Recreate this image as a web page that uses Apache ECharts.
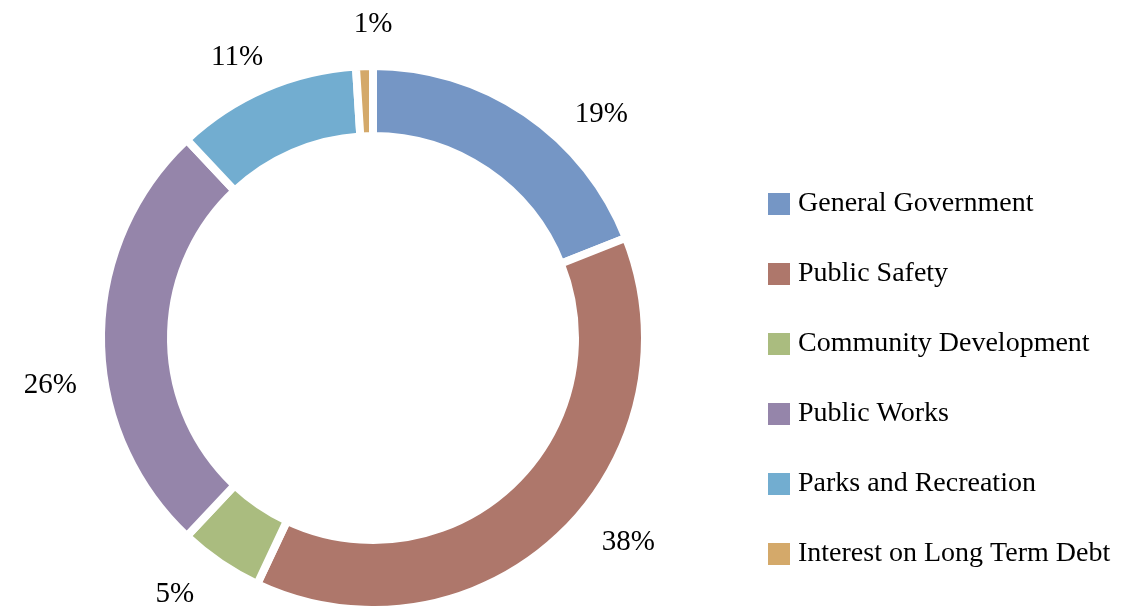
<!DOCTYPE html>
<html>
<head>
<meta charset="utf-8">
<script src="https://cdn.jsdelivr.net/npm/echarts@6/dist/echarts.min.js"></script>
<style>
  html, body { margin: 0; padding: 0; background: #fff; }
  #main { width: 1127px; height: 606px; }
</style>
</head>
<body>
<div id="main"></div>
<script>
var chartDom = document.getElementById('main');
var myChart = echarts.init(chartDom);
var option;

const categories = ['General Government', 'Public Safety', 'Community Development', 'Public Works', 'Parks and Recreation', 'Interest on Long Term Debt'];
const shares = [19, 38, 5, 26, 11, 1];
const colors = ['#7596C5', '#AE776B', '#AABC7F', '#9585AA', '#72ADD0', '#D4A96A'];
// small nudges so the % labels sit where the original placed them
const labelNudge = [[27, 26], [17, -16], [-4, 7], [11, 47], [15, -3], [34, -12]];

const fontFamily = '"Liberation Serif", "DejaVu Serif", serif';

let pieData = [];
for (let i = 0; i < categories.length; i++) {
  pieData.push({ name: categories[i], value: shares[i], itemStyle: { color: colors[i] } });
}

option = {
  animation: false,
  backgroundColor: '#ffffff',
  legend: {
    orient: 'vertical',
    left: 768,
    top: 190,
    padding: 0,
    itemWidth: 22,
    itemHeight: 22,
    itemGap: 42,
    icon: 'rect',
    itemStyle: { borderWidth: 0 },
    data: categories,
    textStyle: {
      fontFamily: fontFamily,
      fontSize: 28,
      color: '#000',
      padding: [0, 0, 0, 3]
    }
  },
  series: [
    {
      name: 'Expenditures',
      type: 'pie',
      center: [373, 338],
      radius: [202, 272],
      startAngle: 90,
      clockwise: true,
      avoidLabelOverlap: false,
      itemStyle: { borderColor: '#fff', borderWidth: 8 },
      label: {
        show: true,
        position: 'outside',
        formatter: '{c}%',
        fontFamily: fontFamily,
        fontSize: 29,
        color: '#000'
      },
      labelLine: { show: false, length: 30, length2: 0 },
      labelLayout: function (params) {
        const n = labelNudge[params.dataIndex];
        return { dx: n[0], dy: n[1] };
      },
      emphasis: { disabled: true },
      data: pieData
    }
  ]
};

myChart.setOption(option);
</script>
</body>
</html>
